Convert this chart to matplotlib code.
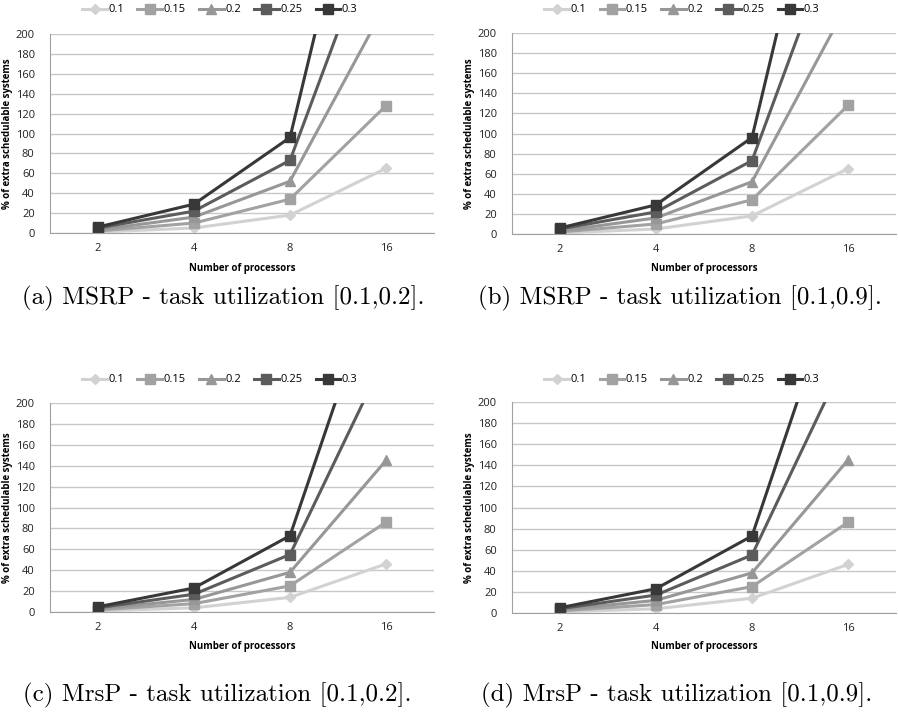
import numpy as np
import matplotlib
matplotlib.use("Agg")
import matplotlib.pyplot as plt

# data
processors = ["2", "4", "8", "16"]
utilizations = ["0.1", "0.15", "0.2", "0.25", "0.3"]

# MSRP (same curves in both task-utilization ranges)
msrp_01 = [1, 5, 18, 65]
msrp_015 = [2, 10, 34, 128]
msrp_02 = [3, 16, 52, 230]
msrp_025 = [5, 22, 73, 332]
msrp_03 = [6, 29, 96, 496]

# MrsP
mrsp_01 = [1, 4, 14, 46]
mrsp_015 = [2, 8, 25, 86]
mrsp_02 = [3, 12, 38, 145]
mrsp_025 = [4, 17, 55, 246]
mrsp_03 = [5, 23, 73, 343]

captions = ["(a) MSRP - task utilization [0.1,0.2].",
            "(b) MSRP - task utilization [0.1,0.9].",
            "(c) MrsP - task utilization [0.1,0.2].",
            "(d) MrsP - task utilization [0.1,0.9]."]

panels = [
    [msrp_01, msrp_015, msrp_02, msrp_025, msrp_03],
    [msrp_01, msrp_015, msrp_02, msrp_025, msrp_03],
    [mrsp_01, mrsp_015, mrsp_02, mrsp_025, mrsp_03],
    [mrsp_01, mrsp_015, mrsp_02, mrsp_025, mrsp_03],
]

colors = ["#d2d2d2", "#a2a2a2", "#979797", "#5c5c5c", "#383838"]
markers = ["D", "s", "^", "s", "s"]
msizes = [5, 7, 7, 7, 7]

plt.rcParams['font.family'] = ['Open Sans', 'DejaVu Sans']

fig = plt.figure(figsize=(8.98, 7.24), dpi=100)

W, H = 898, 724
# left, top(px of 200), bottom(px of 0)
boxes = [(50, 34, 233), (512, 33, 234), (50, 403, 612), (512, 402, 613)]
legend_y = [10, 10, 380, 380]
xlabel_y = [268, 268, 647, 647]
caption_xy = [(22, 298), (478, 298), (23, 695), (481, 695)]

x = np.arange(len(processors))

for i, (l, t, b) in enumerate(boxes):
    ax = fig.add_axes([l / W, (H - b) / H, 384 / W, (b - t) / H])
    for s, series in enumerate(panels[i]):
        ax.plot(x, series, color=colors[s], marker=markers[s], markersize=msizes[s],
                linewidth=2.2, label=utilizations[s])
    ax.set_xlim(-0.5, 3.5)
    ax.set_ylim(0, 200)
    ax.set_yticks(np.arange(0, 201, 20))
    ax.set_xticks(x)
    ax.set_xticklabels(processors)
    ax.grid(axis='y', color='#c8c8c8', linewidth=1)
    ax.set_axisbelow(True)
    for side in ['top', 'right']:
        ax.spines[side].set_visible(False)
    ax.spines['left'].set_color('#a0a0a0')
    ax.spines['bottom'].set_color('#a0a0a0')
    ax.tick_params(axis='both', length=0, labelsize=8, colors='#222222')
    ax.tick_params(axis='y', pad=11)
    ax.tick_params(axis='x', pad=7)
    ax.set_ylabel('% of extra schedulable systems', fontsize=7, fontweight='bold', labelpad=2)

    fig.text((l + 192) / W, 1 - xlabel_y[i] / H, 'Number of processors',
             fontsize=7, fontweight='bold', ha='center', va='center')
    ax.legend(loc='center', bbox_to_anchor=((l + 170) / W, 1 - legend_y[i] / H),
              bbox_transform=fig.transFigure, ncol=5, frameon=False, fontsize=8,
              handlelength=2.2, handletextpad=0.15, columnspacing=1.2)
    cx, cy = caption_xy[i]
    fig.text(cx / W, 1 - cy / H, captions[i], fontsize=18, family='cmr10',
             ha='left', va='center')

fig.savefig('out.png', dpi=100)
